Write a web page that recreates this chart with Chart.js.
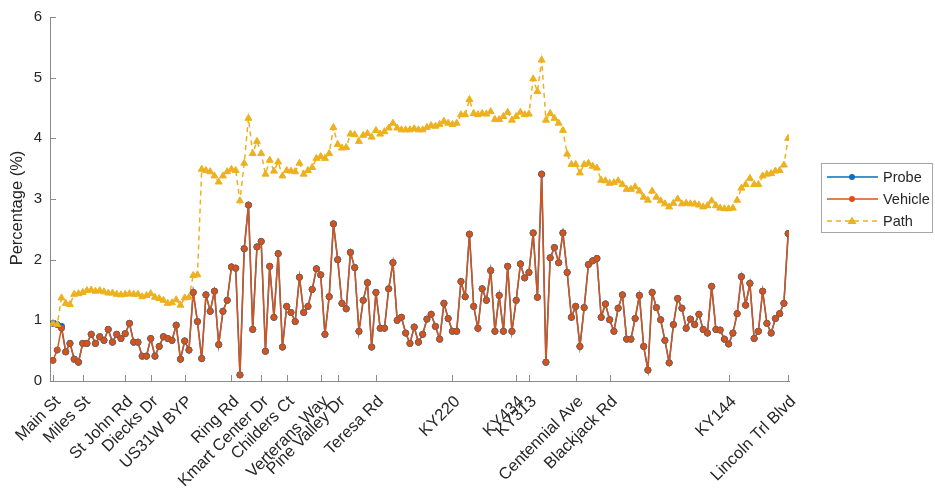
<!DOCTYPE html>
<html>
<head>
<meta charset="utf-8">
<script src="https://cdn.jsdelivr.net/npm/chart.js@4"></script>
<style>
  html, body { margin: 0; padding: 0; background: #fff; }
  #wrap { width: 935px; height: 489px; position: relative; }
</style>
</head>
<body>
<div id="wrap"><canvas id="chart"></canvas></div>
<script>
// road names on the x axis and the point index they sit at
var tickNames = ["Main St", "Miles St", "St John Rd", "Diecks Dr", "US31W BYP", "Ring Rd",
    "Kmart Center Dr", "Childers Ct", "Verterans Way", "Pine Valley Dr", "Teresa Rd", "KY220",
    "KY434", "KY313", "Centennial Ave", "Blackjack Rd", "KY144", "Lincoln Trl Blvd"];
var tickPos = [0, 7, 17, 23, 31, 42, 49, 55, 63, 67, 76, 94, 109, 112, 123, 131, 159, 173];

var yTicks = [0, 1, 2, 3, 4, 5, 6];

// Vehicle percentage per segment
var vehicle = [
    0.34, 0.51, 0.87, 0.48, 0.62, 0.36, 0.31, 0.62, 0.62, 0.77,
    0.62, 0.73, 0.67, 0.85, 0.64, 0.77, 0.70, 0.78, 0.95, 0.64,
    0.64, 0.41, 0.41, 0.70, 0.41, 0.57, 0.73, 0.70, 0.67, 0.92,
    0.36, 0.66, 0.51, 1.46, 0.98, 0.37, 1.42, 1.15, 1.48, 0.60,
    1.15, 1.33, 1.88, 1.86,
    0.10, 2.18, 2.90, 0.85, 2.21, 2.30, 0.49, 1.89, 1.05, 2.10,
    0.56, 1.23, 1.13, 0.98, 1.71, 1.13, 1.23, 1.51, 1.85, 1.75,
    0.77, 1.39, 2.59, 2.00, 1.28, 1.19, 2.12, 1.87, 0.82, 1.33,
    1.62, 0.56, 1.46, 0.87, 0.87, 1.52, 1.95, 1.00, 1.05, 0.79,
    0.62, 0.89, 0.64,
    0.77, 1.02, 1.10, 0.90, 0.69, 1.28, 1.03, 0.82, 0.82, 1.64,
    1.39, 2.42, 1.23, 0.87, 1.52, 1.33, 1.82, 0.82, 1.41, 0.82,
    1.89, 0.82, 1.33, 1.93, 1.70, 1.79, 2.44, 1.38, 3.41, 0.31,
    2.03, 2.20, 1.95, 2.44, 1.79, 1.05, 1.23, 0.57, 1.21, 1.92,
    1.98, 2.02,
    1.05, 1.27, 1.01, 0.82, 1.20, 1.42, 0.69, 0.69, 1.03, 1.41,
    0.57, 0.18, 1.46, 1.21, 1.01, 0.67, 0.30, 0.93, 1.36, 1.20,
    0.87, 1.02, 0.93, 1.10, 0.85, 0.79, 1.56, 0.85, 0.84, 0.69,
    0.61, 0.79, 1.11, 1.72, 1.25, 1.61, 0.70, 0.82, 1.48, 0.95,
    0.79, 1.03, 1.11, 1.28, 2.43
];

// Probe sits under Vehicle, only the first points differ
var probeStart = [0.95, 0.93, 0.90];
var probe = probeStart.concat(vehicle.slice(probeStart.length));

// Path percentage per segment
var path = [
    0.95, 0.93, 1.37, 1.28, 1.26, 1.43, 1.44, 1.46, 1.49, 1.50,
    1.48, 1.49, 1.47, 1.45, 1.45, 1.43, 1.42, 1.43, 1.44, 1.43,
    1.43, 1.39, 1.41, 1.44, 1.38, 1.36, 1.33, 1.28, 1.29, 1.34,
    1.25, 1.37, 1.38, 1.74, 1.75, 3.49, 3.47, 3.45, 3.38, 3.28,
    3.38, 3.45, 3.49, 3.47,
    2.97, 3.59, 4.33, 3.75, 3.95, 3.75, 3.41, 3.64, 3.46, 3.61,
    3.38, 3.47, 3.46, 3.45, 3.59, 3.41, 3.47, 3.52, 3.67, 3.70,
    3.67, 3.75, 4.18, 3.90, 3.84, 3.85, 4.07, 4.06, 3.95, 4.05,
    4.08, 4.02, 4.13, 4.07, 4.11, 4.17, 4.25, 4.17, 4.14, 4.14,
    4.14, 4.16, 4.14,
    4.14, 4.18, 4.21, 4.20, 4.23, 4.28, 4.25, 4.23, 4.25, 4.39,
    4.39, 4.64, 4.41, 4.39, 4.41, 4.40, 4.44, 4.31, 4.31, 4.36,
    4.43, 4.30, 4.36, 4.43, 4.39, 4.40, 4.98, 4.77, 5.29, 4.30,
    4.41, 4.33, 4.25, 4.13, 3.74, 3.57, 3.57, 3.43, 3.57, 3.59,
    3.54, 3.51,
    3.31, 3.30, 3.26, 3.27, 3.30, 3.24, 3.16, 3.16, 3.20, 3.13,
    3.03, 2.98, 3.13, 3.03, 2.97, 2.92, 2.87, 2.93, 3.00, 2.92,
    2.93, 2.92, 2.92, 2.90, 2.87, 2.89, 2.97, 2.89, 2.85, 2.84,
    2.84, 2.85, 2.98, 3.18, 3.24, 3.34, 3.24, 3.24, 3.38, 3.41,
    3.42, 3.46, 3.47, 3.56, 4.00
];

var pointIndex = vehicle.map(function (v, i) { return i; });

var AXIS_COLOR = '#8a8a8a';
var TEXT_COLOR = '#262626';
var FONT = '"Liberation Sans", Arial, Helvetica, sans-serif';
var Y_TITLE = 'Percentage (%)';

var seriesStyle = [
    { label: 'Probe', color: '#0072BD', marker: 'circle', dash: [] },
    { label: 'Vehicle', color: '#D95319', marker: 'circle', dash: [] },
    { label: 'Path', color: '#EDB120', marker: 'triangle', dash: [5, 4] }
];

// small tick marks pointing into the plot + the y title, like the matlab figure
var insideTicks = {
    id: 'insideTicks',
    afterDraw: function (chart) {
        var ctx = chart.ctx;
        var area = chart.chartArea;
        var xs = chart.scales.x, ys = chart.scales.y;
        ctx.save();
        ctx.strokeStyle = AXIS_COLOR;
        ctx.lineWidth = 1;
        ctx.beginPath();
        tickPos.forEach(function (v) {
            var px = Math.round(xs.getPixelForValue(v)) + 0.5;
            ctx.moveTo(px, area.bottom);
            ctx.lineTo(px, area.bottom - 6);
        });
        yTicks.forEach(function (v) {
            var py = Math.round(ys.getPixelForValue(v)) + 0.5;
            ctx.moveTo(area.left, py);
            ctx.lineTo(area.left + 6, py);
        });
        ctx.stroke();

        // y axis title, sits a little below the axis middle in the reference
        ctx.translate(17, (area.top + area.bottom) / 2 + 9);
        ctx.rotate(-Math.PI / 2);
        ctx.fillStyle = TEXT_COLOR;
        ctx.font = '16.5px ' + FONT;
        ctx.textAlign = 'center';
        ctx.textBaseline = 'middle';
        ctx.fillText(Y_TITLE, 0, 0);
        ctx.restore();
    }
};

// legend box on the right with line + marker samples
var sideLegend = {
    id: 'sideLegend',
    afterDraw: function (chart) {
        var ctx = chart.ctx;
        var bx = 821.5, by = 163.5, bw = 111, bh = 69;
        ctx.save();
        ctx.fillStyle = '#fff';
        ctx.fillRect(bx, by, bw, bh);
        ctx.strokeStyle = '#a6a6a6';
        ctx.lineWidth = 1;
        ctx.strokeRect(bx, by, bw, bh);
        ctx.font = '14.5px ' + FONT;
        ctx.textBaseline = 'middle';
        ctx.textAlign = 'left';
        for (var i = 0; i < seriesStyle.length; i++) {
            var s = seriesStyle[i];
            var y = 177 + i * 22;
            ctx.strokeStyle = s.color;
            ctx.lineWidth = 1.5;
            ctx.setLineDash(s.dash);
            ctx.beginPath();
            ctx.moveTo(827, y);
            ctx.lineTo(878, y);
            ctx.stroke();
            ctx.setLineDash([]);
            ctx.fillStyle = s.color;
            ctx.beginPath();
            if (s.marker === 'triangle') {
                ctx.moveTo(852, y - 4.5);
                ctx.lineTo(856.5, y + 3);
                ctx.lineTo(847.5, y + 3);
                ctx.closePath();
            } else {
                ctx.arc(852, y, 3, 0, Math.PI * 2);
            }
            ctx.fill();
            ctx.fillStyle = TEXT_COLOR;
            ctx.fillText(s.label, 883, y + 1);
        }
        ctx.restore();
    }
};

function makeDataset(values, idx, order, extra) {
    var s = seriesStyle[idx];
    var ds = {
        label: s.label,
        data: values,
        borderColor: s.color,
        backgroundColor: s.color,
        borderWidth: 1.5,
        borderDash: s.dash,
        pointStyle: s.marker,
        pointRadius: 3.1,
        pointBackgroundColor: s.color,
        pointBorderColor: s.color,
        pointBorderWidth: 1,
        tension: 0,
        order: order
    };
    for (var k in extra) ds[k] = extra[k];
    return ds;
}

new Chart(document.getElementById('chart'), {
    type: 'line',
    data: {
        labels: pointIndex,
        datasets: [
            makeDataset(probe, 0, 3, {}),
            makeDataset(vehicle, 1, 2, { pointBorderColor: '#8a5a4a' }),
            makeDataset(path, 2, 1, { pointRadius: 4 })
        ]
    },
    options: {
        responsive: true,
        maintainAspectRatio: false,
        animation: false,
        events: [],
        layout: { padding: { left: 0, top: 15, right: 146, bottom: 0 } },
        plugins: {
            legend: { display: false },
            tooltip: { enabled: false }
        },
        scales: {
            x: {
                type: 'linear',
                min: -0.7,
                max: 173.2,
                afterBuildTicks: function (axis) {
                    axis.ticks = tickPos.map(function (v) { return { value: v }; });
                },
                afterFit: function (axis) { axis.height = 108; },
                grid: { display: false, drawTicks: false },
                border: { display: true, color: AXIS_COLOR, width: 1 },
                ticks: {
                    autoSkip: false,
                    minRotation: 45,
                    maxRotation: 45,
                    padding: 11,
                    labelOffset: 5,
                    color: TEXT_COLOR,
                    font: { family: FONT, size: 16.5 },
                    callback: function (value, index) { return tickNames[index]; }
                }
            },
            y: {
                min: 0,
                max: 6,
                afterBuildTicks: function (axis) {
                    axis.ticks = yTicks.map(function (v) { return { value: v }; });
                },
                afterFit: function (axis) { axis.width = 50; },
                grid: { display: false, drawTicks: false },
                border: { display: true, color: AXIS_COLOR, width: 1 },
                ticks: {
                    padding: 8,
                    color: TEXT_COLOR,
                    font: { family: FONT, size: 15 }
                }
            }
        }
    },
    plugins: [insideTicks, sideLegend]
});
</script>
</body>
</html>
